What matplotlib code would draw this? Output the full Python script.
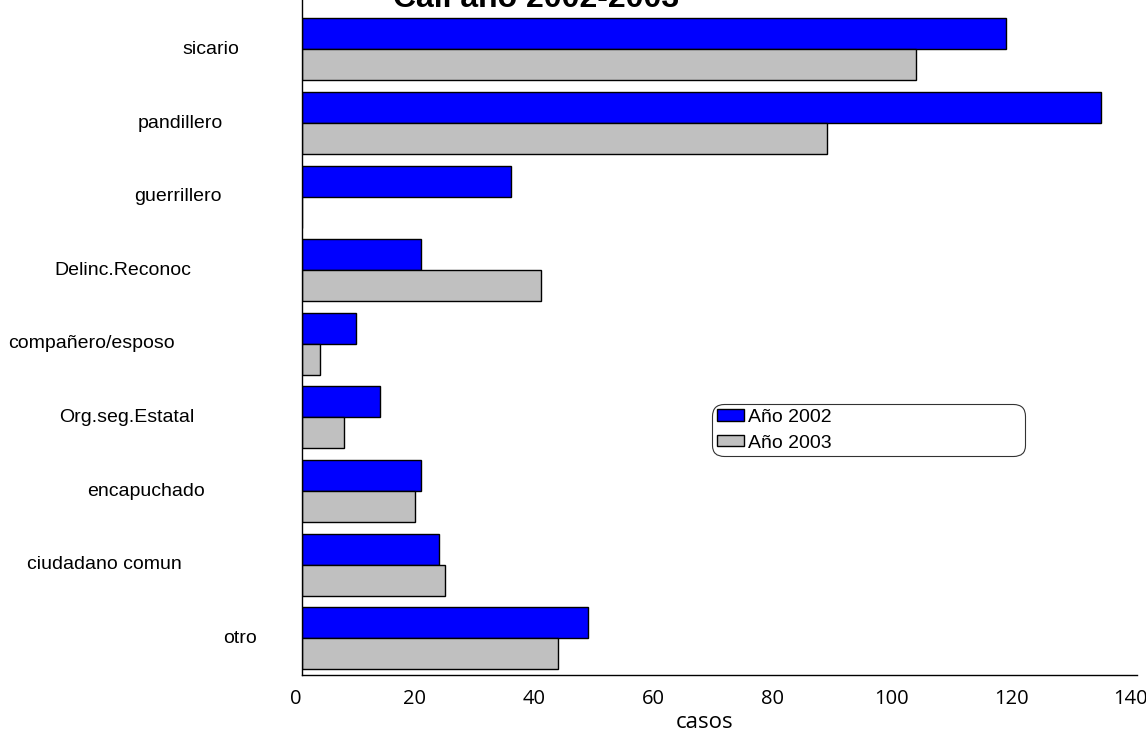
import matplotlib
matplotlib.use("Agg")
import matplotlib.pyplot as plt
import matplotlib.transforms as mtransforms
from matplotlib.patches import Patch
import numpy as np

categories = ["sicario", "pandillero", "guerrillero", "Delinc.Reconoc",
              "compañero/esposo", "Org.seg.Estatal", "encapuchado",
              "ciudadano comun", "otro"]
casos_2002 = [118, 134, 35, 20, 9, 13, 20, 23, 48]
casos_2003 = [103, 88, 0, 40, 3, 7, 19, 24, 43]
series_names = ["Año 2002", "Año 2003"]
xticks = [0, 20, 40, 60, 80, 100, 120, 140]
title = "Cali año 2002-2003"
xlabel = "casos"

# label horizontal centres (pixels) mimicking the irregular placement of the original
label_px = [211, 180, 178, 123, 91, 127, 146, 104, 240]

W, H = 1146, 733
fig = plt.figure(figsize=(W / 100, H / 100), dpi=100)
ax_left, ax_right, ax_top, ax_bottom = 302, 1137, 0, 675
ax = fig.add_axes([ax_left / W, 1 - ax_bottom / H, (ax_right - ax_left) / W, (ax_bottom - ax_top) / H])

period = 73.6  # pixels per category
y = np.arange(len(categories))
h = 0.42
ax.barh(y - h / 2, casos_2002, height=h, color="#0000ff", edgecolor="black", linewidth=1.0)
ax.barh(y + h / 2, casos_2003, height=h, color="#c0c0c0", edgecolor="black", linewidth=1.0)

ax.set_xlim(0, 140)
ax.set_ylim(8.5, 8.5 - (ax_bottom - ax_top) / period)

for s in ["top", "right"]:
    ax.spines[s].set_visible(False)
ax.spines["left"].set_linewidth(1.0)
ax.spines["bottom"].set_linewidth(1.0)

ax.set_yticks([])
ax.set_xticks(xticks)
ax.set_xticklabels([str(t) for t in xticks], fontsize=14.5, family=["Open Sans", "DejaVu Sans"])
ax.tick_params(axis="x", length=0, pad=10)
offset = mtransforms.ScaledTranslation(-6.5 / 100, 0, fig.dpi_scale_trans)
for lab in ax.get_xticklabels():
    lab.set_transform(lab.get_transform() + offset)

trans = mtransforms.blended_transform_factory(ax.transAxes, ax.transData)
for cat, px, yi in zip(categories, label_px, y):
    ax.text((px - ax_left) / (ax_right - ax_left), yi, cat, transform=trans,
            ha="center", va="center", fontsize=14, family="Liberation Sans", clip_on=False)

fig.text(705 / W, 1 - 722 / H, xlabel, ha="center", va="center", fontsize=16,
         family=["Open Sans", "DejaVu Sans"])
fig.text(536 / W, 1 - 7 / H, title, ha="center", va="baseline", fontsize=23,
         fontweight="bold", family="Liberation Sans")

lx0, lx1, ly0, ly1 = 712, 1025, 404, 460
handles = [Patch(facecolor="#0000ff", edgecolor="black"), Patch(facecolor="#c0c0c0", edgecolor="black")]
leg = ax.legend(handles, series_names, loc="upper left",
                bbox_to_anchor=((lx0 - ax_left) / (ax_right - ax_left), 1 - (ly1 - ax_top) / (ax_bottom - ax_top),
                                (lx1 - lx0) / (ax_right - ax_left), (ly1 - ly0) / (ax_bottom - ax_top)),
                mode="expand", frameon=True, fancybox=True, prop={"family": "Liberation Sans", "size": 14},
                handlelength=1.4, handleheight=0.5, handletextpad=0.2, labelspacing=0.45,
                borderpad=0.25, borderaxespad=0)
leg.get_frame().set_edgecolor("black")
leg.get_frame().set_linewidth(0.8)
leg.get_frame().set_boxstyle("round,pad=0,rounding_size=0.6")

fig.savefig("out.png", dpi=100)
